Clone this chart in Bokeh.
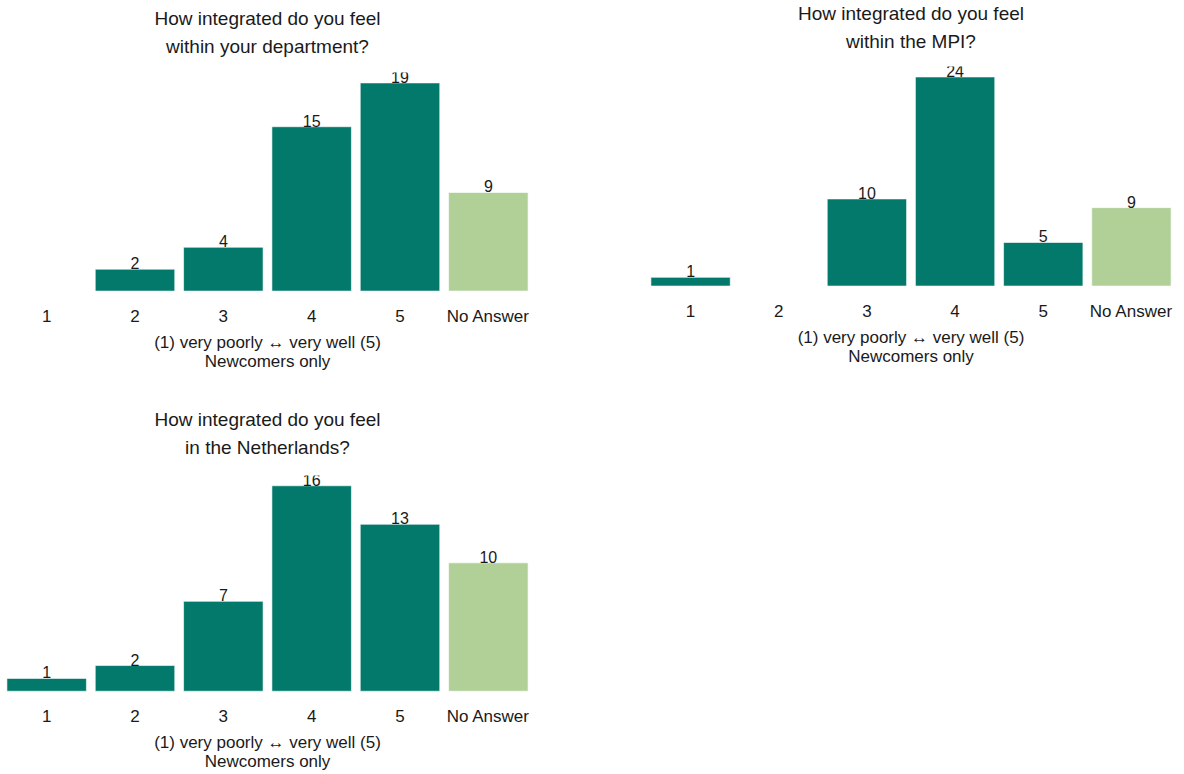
from bokeh.plotting import figure
from bokeh.models import ColumnDataSource, Range1d, Spacer, CategoricalAxis
from bokeh.layouts import column, row
from bokeh.core.properties import value
from bokeh.embed import file_html
from bokeh.resources import INLINE

# Answer categories on the 1-5 scale plus non-responses
categories = ["1", "2", "3", "4", "5", "No Answer"]

# Counts per category (newcomers only)
dept_counts = [0, 2, 4, 15, 19, 9]
mpi_counts = [1, 0, 10, 24, 5, 9]
nl_counts = [1, 2, 7, 16, 13, 10]

dept_title = "How integrated do you feel\nwithin your department?"
mpi_title = "How integrated do you feel\nwithin the MPI?"
nl_title = "How integrated do you feel\nin the Netherlands?"

axis_caption = "(1) very poorly \u2194 very well (5)\nNewcomers only"

ANSWER_COLOR = "#02796b"
NO_ANSWER_COLOR = "#b0d098"
FONT = "Liberation Sans"
TEXT_COLOR = "#1a1a1a"


def make_panel(counts, heading, width, height, b_left, b_right, b_top, b_bottom,
               heading_standoff):
    ymax = max(counts)
    p = figure(
        x_range=categories,
        y_range=Range1d(-0.05 * ymax, 1.05 * ymax),
        width=width, height=height,
        min_border_left=b_left, min_border_right=b_right,
        min_border_top=b_top, min_border_bottom=b_bottom,
        output_backend="svg", toolbar_location=None, tools="",
    )

    keep = [i for i, c in enumerate(counts) if c > 0]
    src = ColumnDataSource(dict(
        x=[categories[i] for i in keep],
        top=[counts[i] for i in keep],
        label=[str(counts[i]) for i in keep],
        color=[NO_ANSWER_COLOR if categories[i] == "No Answer" else ANSWER_COLOR for i in keep],
    ))
    p.vbar(x="x", top="top", bottom=0, width=0.9, source=src,
           fill_color="color", line_color="white", line_width=1, line_alpha=0.6)
    p.text(x="x", y="top", text="label", source=src,
           text_align="center", text_baseline="alphabetic", y_offset=-6,
           text_font=value(FONT), text_font_size="16px", text_color=TEXT_COLOR)

    p.yaxis.visible = False
    p.xgrid.visible = False
    p.ygrid.visible = False
    p.outline_line_color = None

    # bottom axis: answer categories and a two-line caption
    ax = p.xaxis[0]
    ax.axis_line_color = None
    ax.major_tick_line_color = None
    ax.minor_tick_line_color = None
    ax.major_tick_out = 0
    ax.major_tick_in = 0
    ax.major_label_text_font = FONT
    ax.major_label_text_font_size = "17px"
    ax.major_label_text_color = TEXT_COLOR
    ax.major_label_standoff = 5
    ax.axis_label = axis_caption
    ax.axis_label_text_font = FONT
    ax.axis_label_text_font_size = "17px"
    ax.axis_label_text_font_style = "normal"
    ax.axis_label_text_color = TEXT_COLOR
    ax.axis_label_text_line_height = 1.05
    ax.axis_label_standoff = 4

    # top axis carries only the centred two-line heading
    top = CategoricalAxis(
        axis_label=heading,
        axis_line_color=None,
        major_tick_line_color=None,
        minor_tick_line_color=None,
        major_tick_out=0, major_tick_in=0,
        major_label_text_font_size="1px",
        major_label_text_alpha=0,
        major_label_standoff=0,
        axis_label_text_font=FONT,
        axis_label_text_font_size="19px",
        axis_label_text_font_style="normal",
        axis_label_text_color=TEXT_COLOR,
        axis_label_text_line_height=1.29,
        axis_label_standoff=heading_standoff,
    )
    p.add_layout(top, "above")
    return p


p1 = make_panel(dept_counts, dept_title, 600, 389, 2, 68, 71, 89, 16)
p2 = make_panel(mpi_counts, mpi_title, 584, 390, 46, 9, 66, 94, 15)
p3 = make_panel(nl_counts, nl_title, 600, 384, 2, 68, 85, 71, 18)

layout = column(row(column(Spacer(width=600, height=1), p1), p2), p3)

with open("out.html", "w") as f:
    f.write(file_html(layout, INLINE))
